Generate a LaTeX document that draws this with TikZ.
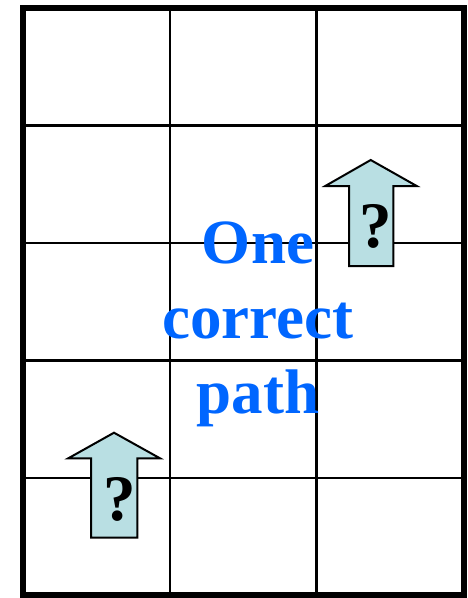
\documentclass[tikz,border=0pt]{standalone}
\usepackage{fontspec}
\setmainfont{Liberation Serif}
\definecolor{pathblue}{RGB}{0,102,255}
\definecolor{arrowfill}{RGB}{185,223,227}
\begin{document}
\begin{tikzpicture}[x=1pt,y=-1pt,
  gridline/.style={line width=2.4pt},
  border/.style={line width=6pt},
  uparrow/.style={draw=black, line width=2pt, fill=arrowfill, line join=miter},
  qmark/.style={font=\fontsize{65}{65}\selectfont\bfseries, inner sep=0pt, anchor=base},
  pathtext/.style={font=\fontsize{63}{75}\selectfont\bfseries, text=pathblue, inner sep=0pt, anchor=base}]
\useasboundingbox (0,0) rectangle (468,598);
% inner grid
\foreach \x in {169.7,316.3} \draw[gridline] (\x,8) -- (\x,595);
\foreach \y in {125.5,243,360.5,478} \draw[gridline] (23,\y) -- (463.5,\y);
% outer border
\draw[border] (23,8) rectangle (463.5,595);
% arrows
\draw[uparrow] (349,266) -- (349,186) -- (325.3,186) -- (370.7,160) -- (416.7,186) -- (393.3,186) -- (393.3,266) -- cycle;
\draw[uparrow] (91,537.7) -- (91,458.3) -- (68.3,458.3) -- (114,432.7) -- (160,458.3) -- (137.3,458.3) -- (137.3,537.7) -- cycle;
\node[qmark] (q1) at (376,247) {?};
\node[qmark] (q2) at (120,520) {?};
% label
\node[pathtext] (t1) at (258,263) {One};
\node[pathtext] (t2) at (258,338) {correct};
\node[pathtext] (t3) at (258,413) {path};
\end{tikzpicture}
\end{document}
